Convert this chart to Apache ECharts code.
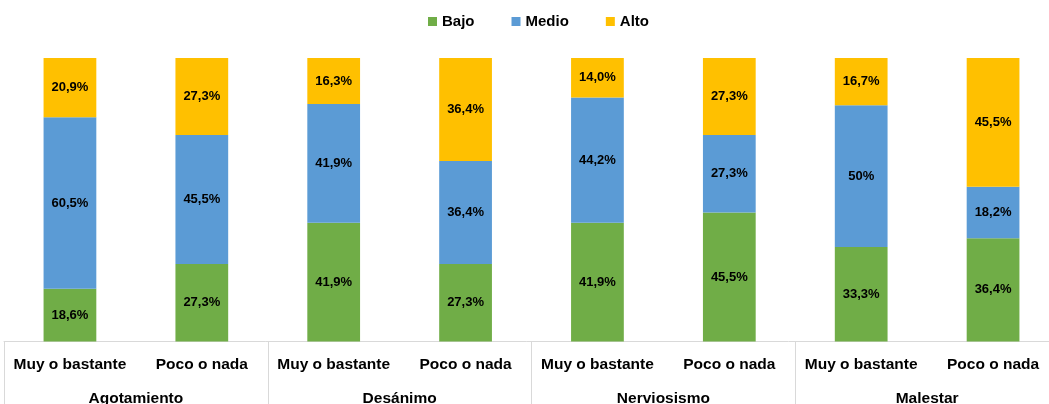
<!DOCTYPE html>
<html>
<head>
<meta charset="utf-8">
<script src="https://cdn.jsdelivr.net/npm/echarts@6/dist/echarts.min.js"></script>
<style>
  html, body { margin: 0; padding: 0; background: #fff; }
  #myChart { width: 1049px; height: 404px; }
</style>
</head>
<body>
<div id="myChart"></div>
<script>
// categories (two level axis)
const categories = ['Muy o bastante', 'Poco o nada', 'Muy o bastante', 'Poco o nada',
  'Muy o bastante', 'Poco o nada', 'Muy o bastante', 'Poco o nada']
const groups = ['Agotamiento', 'Desánimo', 'Nerviosismo', 'Malestar']
// series values (%)
const bajo = [18.6, 27.3, 41.9, 27.3, 41.9, 45.5, 33.3, 36.4]
const medio = [60.5, 45.5, 41.9, 36.4, 44.2, 27.3, 50, 18.2]
const alto = [20.9, 27.3, 16.3, 36.4, 14.0, 27.3, 16.7, 45.5]

const font = 'Liberation Sans'

function fmt (p) {
  let v = p.value
  if (v === 50) return '50%'
  return v.toFixed(1).replace('.', ',') + '%'
}

function makeSeries (name, data, color) {
  return {
    name: name,
    type: 'bar',
    stack: 'total',
    xAxisIndex: 0,
    data: data,
    barWidth: '40%',
    itemStyle: { color: color },
    label: {
      show: true,
      position: 'inside',
      color: '#000',
      fontFamily: font,
      fontWeight: 'bold',
      fontSize: 13,
      formatter: fmt
    },
    emphasis: { disabled: true }
  }
}

let myChart = echarts.init(document.getElementById('myChart'))
myChart.setOption({
  animation: false,
  backgroundColor: '#fff',
  legend: {
    left: 423,
    top: 9,
    itemWidth: 9,
    itemHeight: 9,
    itemGap: 37,
    icon: 'rect',
    textStyle: { fontFamily: font, fontWeight: 'bold', fontSize: 15, color: '#000' },
    data: ['Bajo', 'Medio', 'Alto']
  },
  grid: {
    left: 4,
    top: 58,
    width: 1055,
    height: 283.5,
    containLabel: false,
    outerBoundsMode: 'none'
  },
  xAxis: [
    {
      type: 'category',
      data: categories,
      axisLine: { lineStyle: { color: '#d9d9d9', width: 1 } },
      axisTick: { show: false },
      axisLabel: {
        interval: 0,
        margin: 15,
        color: '#000',
        fontFamily: font,
        fontWeight: 'bold',
        fontSize: 15.5
      }
    },
    {
      type: 'category',
      position: 'bottom',
      data: groups,
      axisLine: { show: false },
      axisTick: {
        show: true,
        interval: 0,
        length: 70,
        lineStyle: { color: '#d9d9d9', width: 1 }
      },
      axisLabel: {
        interval: 0,
        margin: 49,
        color: '#000',
        fontFamily: font,
        fontWeight: 'bold',
        fontSize: 15.5
      }
    }
  ],
  yAxis: {
    type: 'value',
    min: 0,
    max: 100,
    show: false,
    splitLine: { show: false }
  },
  series: [
    makeSeries('Bajo', bajo, '#70ad47'),
    makeSeries('Medio', medio, '#5b9bd5'),
    makeSeries('Alto', alto, '#ffc000')
  ]
})
</script>
</body>
</html>
